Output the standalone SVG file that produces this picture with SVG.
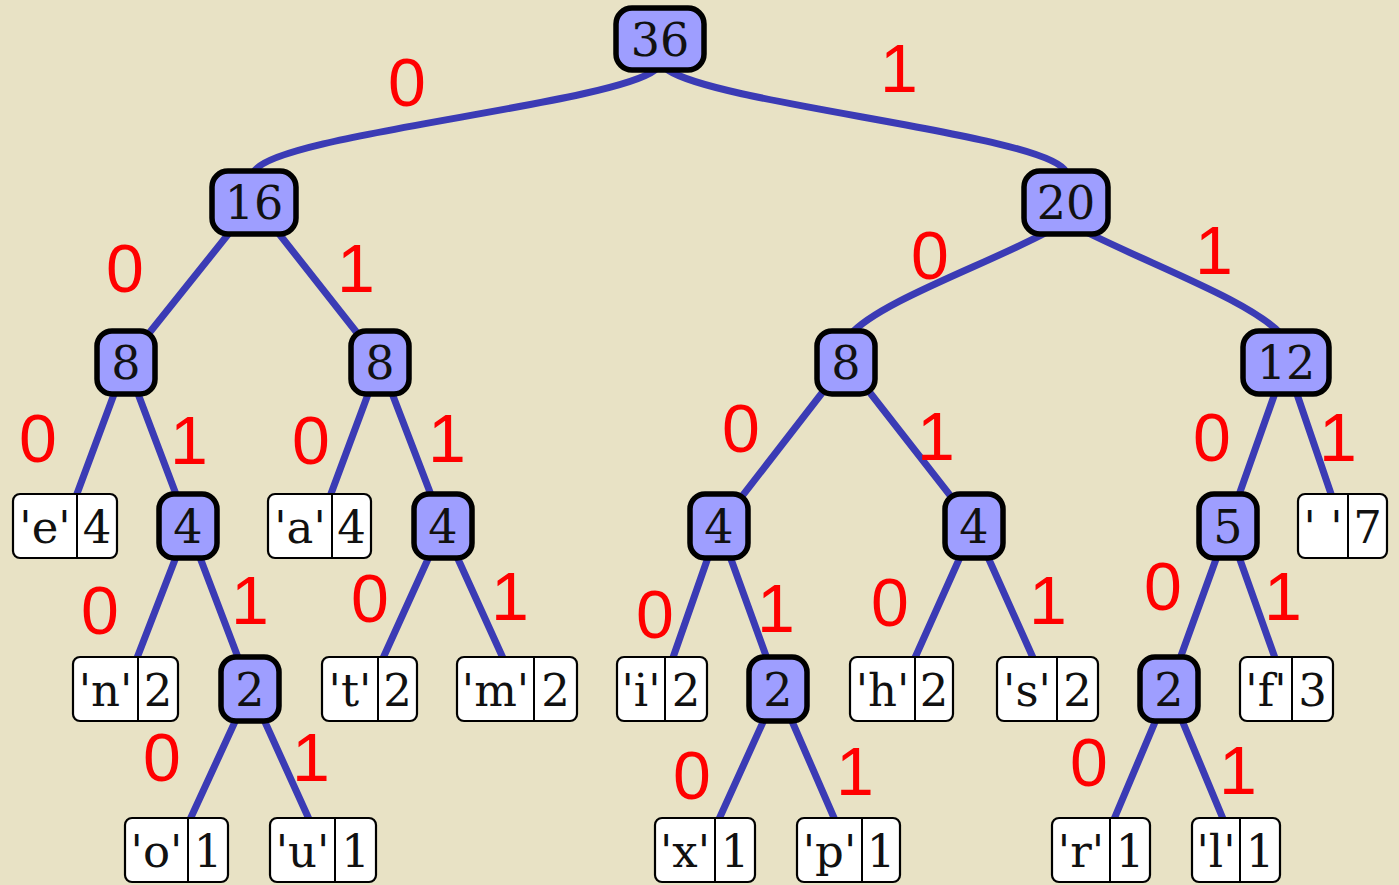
<svg xmlns="http://www.w3.org/2000/svg" width="1399" height="885" viewBox="0 0 1399 885">
  <style>
    .bg { fill: #e8e2c5; }
    .edge { fill: none; stroke: #3b3bb5; stroke-width: 7; stroke-linecap: round; }
    .inner rect { fill: #9e9eff; stroke: #000; stroke-width: 5.5; }
    .inner text { font-family: "DejaVu Serif", serif; font-size: 46px; fill: #111; text-anchor: middle; }
    .leaf rect { fill: #fff; stroke: #000; stroke-width: 2.2; }
    .leaf line { stroke: #000; stroke-width: 2; }
    .leaf text { font-family: "DejaVu Serif", serif; font-size: 45px; fill: #111; text-anchor: middle; }
    .bit { font-family: "Liberation Sans", Arial, sans-serif; font-size: 68px; fill: #ff0000; text-anchor: middle; }
  </style>

  <rect class="bg" x="0" y="0" width="1399" height="885"/>

  <!-- tree edges, drawn under the nodes -->
  <g id="connectors">
    <path class="edge" d="M655,70 C610,105 270,135 254,172"/>
    <path class="edge" d="M668,70 C720,105 1050,135 1066,172"/>
    <path class="edge" d="M1060,225 C1000,260 880,300 850,335"/>
    <path class="edge" d="M1072,225 C1150,265 1250,300 1282,335"/>
    <line class="edge" x1="254" y1="202" x2="126" y2="362"/>
    <line class="edge" x1="254" y1="202" x2="380" y2="362"/>
    <line class="edge" x1="126" y1="362" x2="65" y2="526"/>
    <line class="edge" x1="126" y1="362" x2="188" y2="526"/>
    <line class="edge" x1="380" y1="362" x2="319" y2="526"/>
    <line class="edge" x1="380" y1="362" x2="443" y2="526"/>
    <line class="edge" x1="846" y1="362" x2="719" y2="526"/>
    <line class="edge" x1="846" y1="362" x2="974" y2="526"/>
    <line class="edge" x1="1286" y1="362" x2="1228" y2="526"/>
    <line class="edge" x1="1286" y1="362" x2="1342" y2="526"/>
    <line class="edge" x1="188" y1="526" x2="125" y2="689"/>
    <line class="edge" x1="188" y1="526" x2="250" y2="689"/>
    <line class="edge" x1="443" y1="526" x2="369" y2="689"/>
    <line class="edge" x1="443" y1="526" x2="517" y2="689"/>
    <line class="edge" x1="719" y1="526" x2="662" y2="689"/>
    <line class="edge" x1="719" y1="526" x2="778" y2="689"/>
    <line class="edge" x1="974" y1="526" x2="901" y2="689"/>
    <line class="edge" x1="974" y1="526" x2="1047" y2="689"/>
    <line class="edge" x1="1228" y1="526" x2="1169" y2="689"/>
    <line class="edge" x1="1228" y1="526" x2="1286" y2="689"/>
    <line class="edge" x1="250" y1="689" x2="176" y2="850"/>
    <line class="edge" x1="250" y1="689" x2="323" y2="850"/>
    <line class="edge" x1="778" y1="689" x2="705" y2="850"/>
    <line class="edge" x1="778" y1="689" x2="848" y2="850"/>
    <line class="edge" x1="1169" y1="689" x2="1101" y2="850"/>
    <line class="edge" x1="1169" y1="689" x2="1236" y2="850"/>
  </g>

  <!-- branch bits -->
  <g id="bits">
    <text class="bit" x="407" y="106">0</text>
    <text class="bit" x="899" y="92">1</text>
    <text class="bit" x="125" y="292">0</text>
    <text class="bit" x="356" y="292">1</text>
    <text class="bit" x="930" y="279">0</text>
    <text class="bit" x="1214" y="274">1</text>
    <text class="bit" x="38" y="462">0</text>
    <text class="bit" x="189" y="464">1</text>
    <text class="bit" x="311" y="464">0</text>
    <text class="bit" x="447" y="462">1</text>
    <text class="bit" x="741" y="452">0</text>
    <text class="bit" x="936" y="460">1</text>
    <text class="bit" x="1212" y="461">0</text>
    <text class="bit" x="1338" y="461">1</text>
    <text class="bit" x="100" y="634">0</text>
    <text class="bit" x="250" y="624">1</text>
    <text class="bit" x="370" y="622">0</text>
    <text class="bit" x="510" y="620">1</text>
    <text class="bit" x="655" y="638">0</text>
    <text class="bit" x="776" y="632">1</text>
    <text class="bit" x="890" y="626">0</text>
    <text class="bit" x="1048" y="624">1</text>
    <text class="bit" x="1163" y="610">0</text>
    <text class="bit" x="1283" y="620">1</text>
    <text class="bit" x="162" y="781">0</text>
    <text class="bit" x="311" y="781">1</text>
    <text class="bit" x="692" y="799">0</text>
    <text class="bit" x="855" y="795">1</text>
    <text class="bit" x="1089" y="786">0</text>
    <text class="bit" x="1238" y="794">1</text>
  </g>

  <!-- internal nodes (weights) -->
  <g id="n36" class="inner"><rect x="616" y="8" width="88" height="62" rx="16"/><text x="660" y="56">36</text></g>
  <g id="n16" class="inner"><rect x="212" y="171" width="84" height="63" rx="16"/><text x="254" y="219">16</text></g>
  <g id="n20" class="inner"><rect x="1024" y="171" width="84" height="63" rx="16"/><text x="1066" y="219">20</text></g>
  <g id="n8a" class="inner"><rect x="97" y="331" width="58" height="63" rx="15"/><text x="126" y="379">8</text></g>
  <g id="n8b" class="inner"><rect x="351" y="331" width="58" height="63" rx="15"/><text x="380" y="379">8</text></g>
  <g id="n8c" class="inner"><rect x="817" y="331" width="58" height="63" rx="15"/><text x="846" y="379">8</text></g>
  <g id="n12" class="inner"><rect x="1243" y="331" width="86" height="63" rx="16"/><text x="1286" y="379">12</text></g>
  <g id="n4a" class="inner"><rect x="159" y="494" width="58" height="64" rx="15"/><text x="188" y="543">4</text></g>
  <g id="n4b" class="inner"><rect x="414" y="494" width="58" height="64" rx="15"/><text x="443" y="543">4</text></g>
  <g id="n4c" class="inner"><rect x="690" y="494" width="58" height="64" rx="15"/><text x="719" y="543">4</text></g>
  <g id="n4d" class="inner"><rect x="945" y="494" width="58" height="64" rx="15"/><text x="974" y="543">4</text></g>
  <g id="n5" class="inner"><rect x="1199" y="494" width="58" height="64" rx="15"/><text x="1228" y="543">5</text></g>
  <g id="n2a" class="inner"><rect x="221" y="657" width="58" height="64" rx="15"/><text x="250" y="706">2</text></g>
  <g id="n2b" class="inner"><rect x="749" y="657" width="58" height="64" rx="15"/><text x="778" y="706">2</text></g>
  <g id="n2c" class="inner"><rect x="1140" y="657" width="58" height="64" rx="15"/><text x="1169" y="706">2</text></g>

  <!-- leaves: character | count -->
  <g id="leaf-e" class="leaf"><rect x="13" y="494" width="104" height="64" rx="7"/><line x1="77" y1="494" x2="77" y2="558"/><text x="45" y="543">'e'</text><text x="97" y="543">4</text></g>
  <g id="leaf-a" class="leaf"><rect x="268" y="494" width="103" height="64" rx="7"/><line x1="332" y1="494" x2="332" y2="558"/><text x="300" y="543">'a'</text><text x="351.5" y="543">4</text></g>
  <g id="leaf-space" class="leaf"><rect x="1298" y="494" width="89" height="64" rx="7"/><line x1="1348" y1="494" x2="1348" y2="558"/><text x="1323" y="543">' '</text><text x="1367.5" y="543">7</text></g>

  <g id="leaf-n" class="leaf"><rect x="73" y="657" width="105" height="64" rx="7"/><line x1="138" y1="657" x2="138" y2="721"/><text x="105.5" y="706">'n'</text><text x="158" y="706">2</text></g>
  <g id="leaf-t" class="leaf"><rect x="322" y="657" width="95" height="64" rx="7"/><line x1="378" y1="657" x2="378" y2="721"/><text x="350" y="706">'t'</text><text x="397.5" y="706">2</text></g>
  <g id="leaf-m" class="leaf"><rect x="457" y="657" width="120" height="64" rx="7"/><line x1="534" y1="657" x2="534" y2="721"/><text x="495.5" y="706">'m'</text><text x="555.5" y="706">2</text></g>
  <g id="leaf-i" class="leaf"><rect x="617" y="657" width="90" height="64" rx="7"/><line x1="665" y1="657" x2="665" y2="721"/><text x="641" y="706">'i'</text><text x="686" y="706">2</text></g>
  <g id="leaf-h" class="leaf"><rect x="850" y="657" width="103" height="64" rx="7"/><line x1="915" y1="657" x2="915" y2="721"/><text x="882.5" y="706">'h'</text><text x="934" y="706">2</text></g>
  <g id="leaf-s" class="leaf"><rect x="997" y="657" width="101" height="64" rx="7"/><line x1="1057" y1="657" x2="1057" y2="721"/><text x="1027" y="706">'s'</text><text x="1077.5" y="706">2</text></g>
  <g id="leaf-f" class="leaf"><rect x="1240" y="657" width="93" height="64" rx="7"/><line x1="1292" y1="657" x2="1292" y2="721"/><text x="1266" y="706">'f'</text><text x="1312.5" y="706">3</text></g>

  <g id="leaf-o" class="leaf"><rect x="125" y="818" width="103" height="64" rx="7"/><line x1="188" y1="818" x2="188" y2="882"/><text x="156.5" y="867">'o'</text><text x="208" y="867">1</text></g>
  <g id="leaf-u" class="leaf"><rect x="270" y="818" width="106" height="64" rx="7"/><line x1="335" y1="818" x2="335" y2="882"/><text x="302.5" y="867">'u'</text><text x="355.5" y="867">1</text></g>
  <g id="leaf-x" class="leaf"><rect x="655" y="818" width="100" height="64" rx="7"/><line x1="715" y1="818" x2="715" y2="882"/><text x="685" y="867">'x'</text><text x="735" y="867">1</text></g>
  <g id="leaf-p" class="leaf"><rect x="797" y="818" width="103" height="64" rx="7"/><line x1="862" y1="818" x2="862" y2="882"/><text x="829.5" y="867">'p'</text><text x="881" y="867">1</text></g>
  <g id="leaf-r" class="leaf"><rect x="1052" y="818" width="98" height="64" rx="7"/><line x1="1110" y1="818" x2="1110" y2="882"/><text x="1081" y="867">'r'</text><text x="1130" y="867">1</text></g>
  <g id="leaf-l" class="leaf"><rect x="1192" y="818" width="88" height="64" rx="7"/><line x1="1240" y1="818" x2="1240" y2="882"/><text x="1216" y="867">'l'</text><text x="1260" y="867">1</text></g>
</svg>
